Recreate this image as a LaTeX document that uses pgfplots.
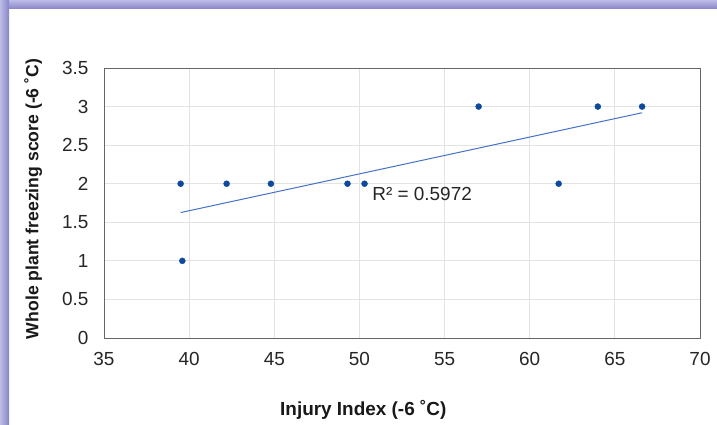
\documentclass[border=0pt]{standalone}
\usepackage{fontspec}
\setmainfont{Liberation Sans}
\usepackage{pgfplots}
\pgfplotsset{compat=1.18}
\definecolor{frameout}{HTML}{BDBCE6}
\definecolor{framein}{HTML}{8784C8}
\definecolor{dotc}{HTML}{0D4A9E}
\definecolor{trendc}{HTML}{4472C4}
\definecolor{gridc}{HTML}{E3E3E3}
\definecolor{boxc}{HTML}{666666}
\begin{document}
\begin{tikzpicture}[x=1bp,y=1bp]
\useasboundingbox (0,0) rectangle (717,424);
\fill[white] (0,0) rectangle (717,424);
\shade[top color=frameout, bottom color=framein] (0,415) rectangle (717,424);
\shade[left color=frameout, right color=framein] (0,0) rectangle (9,424);
\begin{axis}[
    at={(104bp,86bp)}, anchor=south west,
    scale only axis, width=596bp, height=270bp,
    xmin=35, xmax=70, ymin=0, ymax=3.5,
    xtick={35,40,...,70}, ytick={0,0.5,...,3.5},
    major tick length=0pt,
    grid=major, major grid style={gridc, line width=0.8bp},
    axis line style={boxc, line width=0.9bp},
    /pgf/number format/assume math mode=true,
    ticklabel style={font=\fontsize{19}{22}\selectfont, text=black!85},
    xticklabel style={yshift=-11bp},
    yticklabel style={xshift=-12bp},
    xlabel={Injury Index (-6 ˚C)},
    ylabel={Whole plant freezing score (-6 ˚C)},
    label style={text=black!90},
    xlabel style={font=\bfseries\fontsize{19}{22}\selectfont, at={(rel axis cs:0.435,-0.267)}, anchor=center},
    ylabel style={font=\bfseries\fontsize{17.7}{21}\selectfont, at={(rel axis cs:-0.119,0.515)}, anchor=center, rotate=0},
    clip=false,
  ]
  \addplot[trendc, line width=1bp] coordinates {(39.5,1.626)(66.6,2.92)};
  \addplot[only marks, mark=*, mark size=3bp, dotc, mark options={draw=dotc, fill=dotc}] coordinates {
    (39.5,2) (39.6,1) (42.2,2) (44.8,2) (49.3,2) (50.3,2)
    (57.0,3) (61.7,2) (64.0,3) (66.6,3)};
  \node[anchor=west, inner sep=0pt, font=\fontsize{19}{22}\selectfont, text=black!85] at (axis cs:50.75,1.867) {R² = 0.5972};
\end{axis}
\end{tikzpicture}
\end{document}
